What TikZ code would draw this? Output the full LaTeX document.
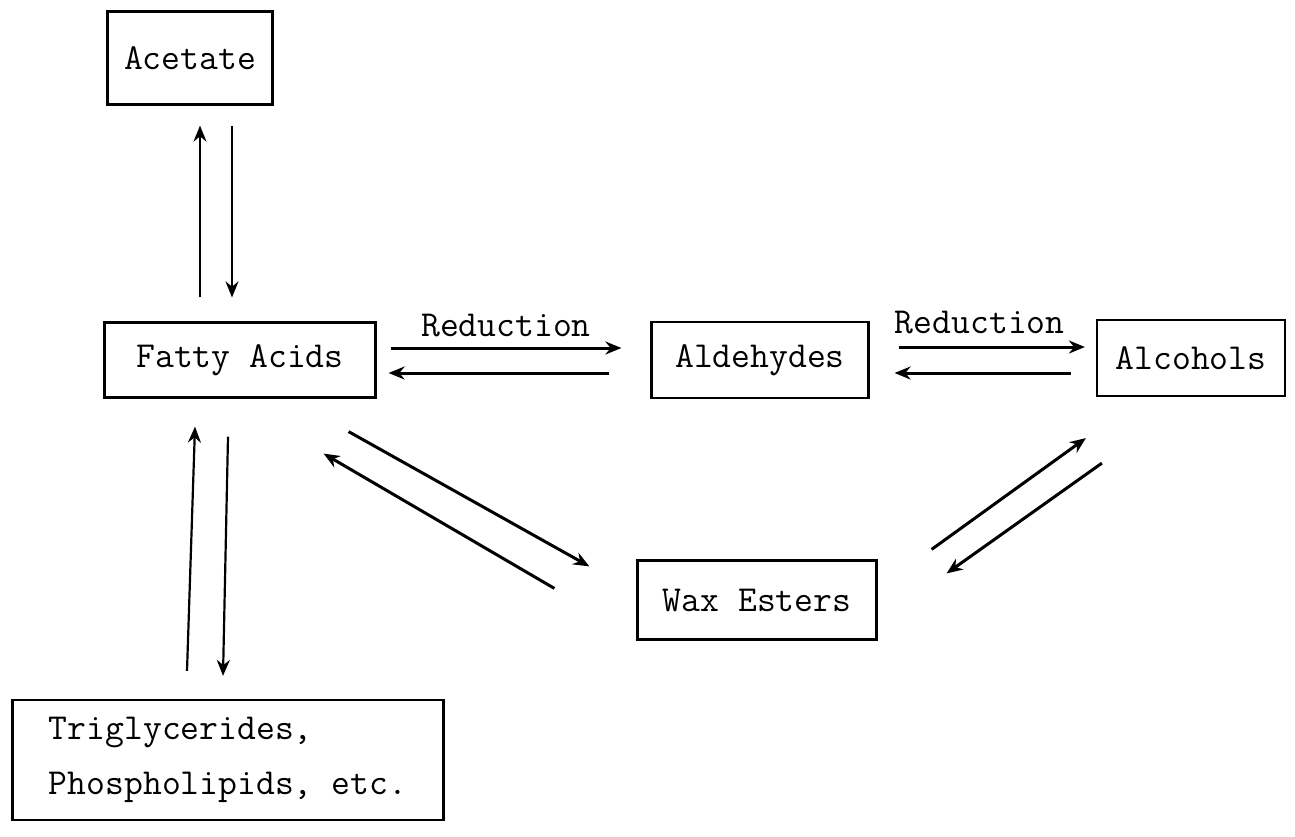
\documentclass[tikz,border=0pt]{standalone}
\usepackage{tikz}
\usetikzlibrary{arrows.meta}

\begin{document}
\begin{tikzpicture}[x=0.5pt,y=-0.5pt,
    font=\ttfamily\fontsize{18.3pt}{27.5pt}\selectfont,
    box/.style={draw,line width=1.1pt,inner sep=0pt},
    rx/.style={line width=1.5pt,-{Stealth[length=8pt,width=6.5pt]}}]
\useasboundingbox (0,0) rectangle (1295,836);
%First the boxes, one for each compound. They sit at fixed
% coordinates (given in pixels of the original scan)
\node[box,minimum width=82.5pt,minimum height=46.5pt] (ac) at (190,58) {Acetate};
\node[box,minimum width=135.5pt,minimum height=37.5pt] (fa) at (240,360) {Fatty Acids};
\node[box,minimum width=108.5pt,minimum height=38pt] (al) at (760,360) {Aldehydes};
\node[box,minimum width=94pt,minimum height=38pt] (oh) at (1191,358) {Alcohols};
\node[box,minimum width=119.5pt,minimum height=39.5pt] (wx) at (757,600) {Wax Esters};
\node[box,minimum width=215.5pt,minimum height=60pt,align=left] (tg) at (228,760)
    {Triglycerides,\\Phospholipids, etc.};
%Acetate <-> fatty acids
\draw[rx,line width=1.1pt] ([xshift=-20pt,yshift=12pt]fa.north) -- ([xshift=5pt,yshift=-10pt]ac.south);
\draw[rx,line width=1.1pt] ([xshift=21pt,yshift=-10pt]ac.south) -- ([xshift=-4pt,yshift=12pt]fa.north);
%Fatty acids <-> triglycerides
\draw[rx,line width=1.1pt] ([xshift=-20.5pt,yshift=14pt]tg.north) -- ([xshift=-22.5pt,yshift=-14pt]fa.south);
\draw[rx,line width=1.1pt] ([xshift=-6pt,yshift=-19pt]fa.south) -- ([xshift=-2.5pt,yshift=11.5pt]tg.north);
%The two reduction steps, with their labels
\draw[rx] ([xshift=7pt,yshift=6pt]fa.east) -- node[above=1.5pt] (r1) {Reduction}
    ([xshift=-14.5pt,yshift=6pt]al.west);
\draw[rx] ([xshift=-20.5pt,yshift=-6.5pt]al.west) -- ([xshift=6pt,yshift=-6.5pt]fa.east);
\draw[rx] ([xshift=14.5pt,yshift=6.5pt]al.east) -- node[above=2.5pt,xshift=-6pt] (r2) {Reduction}
    ([xshift=-5.5pt,yshift=5.5pt]oh.west);
\draw[rx] ([xshift=-12.5pt,yshift=-7.5pt]oh.west) -- ([xshift=12.5pt,yshift=-6.5pt]al.east);
%Wax esters, from fatty acids and from alcohols
\draw[rx] ([xshift=-14pt,yshift=-16.5pt]fa.south east) -- ([xshift=-23.5pt,yshift=-3.5pt]wx.north west);
\draw[rx] ([xshift=-41pt,yshift=-14.5pt]wx.north west) -- ([xshift=-26.5pt,yshift=-27.5pt]fa.south east);
\draw[rx] ([xshift=27pt,yshift=5pt]wx.north east) -- ([xshift=-5pt,yshift=-20.5pt]oh.south west);
\draw[rx] ([xshift=3pt,yshift=-33pt]oh.south west) -- ([xshift=34.5pt,yshift=-7pt]wx.north east);
\end{tikzpicture}
\end{document}
